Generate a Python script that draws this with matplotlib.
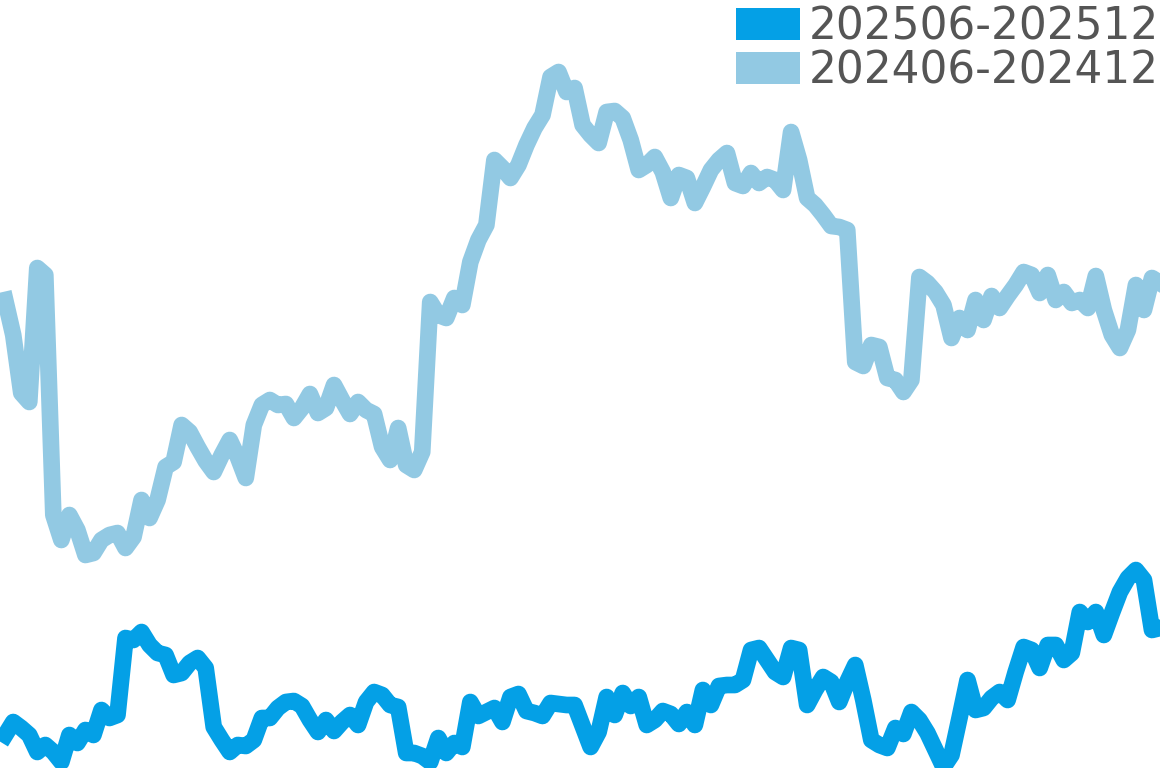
import matplotlib
matplotlib.use("Agg")
import matplotlib.pyplot as plt
from matplotlib.patches import Rectangle

# trading-day series, June to December
labels = ["202506-202512", "202406-202412"]
colors = ["#04A0E6", "#92C9E3"]

values_2025 = [
    3.3, 4.6, 4.0, 3.3, 1.6, 2.3, 1.6, 0.6, 3.3, 2.5,
    3.8, 3.3, 5.8, 5.0, 5.3, 13.0, 12.8, 13.6, 12.3, 11.5,
    11.3, 9.3, 9.5, 10.5, 11.0, 10.0, 4.1, 2.8, 1.6, 2.3,
    2.2, 2.8, 5.0, 5.0, 6.0, 6.6, 6.7, 6.2, 4.8, 3.6,
    4.8, 3.7, 4.6, 5.3, 4.3, 6.6, 7.6, 7.3, 6.3, 6.1,
    1.5, 1.5, 1.2, 0.6, 3.0, 1.5, 2.5, 2.1, 6.6, 5.2,
    5.6, 6.0, 4.6, 7.1, 7.4, 5.7, 5.5, 5.2, 6.5, 6.4,
    6.3, 6.3, 4.2, 2.1, 3.6, 7.1, 5.3, 7.5, 6.2, 7.1,
    4.3, 4.8, 5.7, 5.4, 4.4, 5.6, 4.3, 7.8, 6.3, 8.2,
    8.3, 8.3, 8.8, 11.8, 12.0, 10.8, 9.6, 9.1, 12.0, 11.8,
    6.3, 7.8, 9.1, 8.6, 6.6, 8.6, 10.3, 6.8, 2.8, 2.3,
    2.0, 4.0, 3.4, 5.6, 4.8, 3.5, 1.8, 0.1, 1.3, 5.0,
    8.8, 5.8, 6.0, 7.0, 7.6, 6.8, 9.6, 12.1, 11.8, 10.0,
    12.3, 12.3, 10.8, 11.5, 15.6, 14.6, 15.6, 13.3, 15.5, 17.6,
    19.0, 19.8, 18.8, 13.8, 14.0,
]

values_2024 = [
    46.8, 43.3, 37.5, 36.6, 50.0, 49.3, 25.3, 22.8, 25.3, 23.8,
    21.3, 21.5, 22.8, 23.3, 23.5, 22.0, 23.1, 26.8, 25.0, 26.8,
    30.1, 30.6, 34.3, 33.6, 32.1, 30.7, 29.6, 31.3, 32.8, 31.1,
    29.0, 34.3, 36.3, 36.8, 36.3, 36.4, 35.0, 36.0, 37.4, 35.5,
    36.0, 38.3, 36.8, 35.4, 36.6, 35.8, 35.4, 32.1, 30.8, 34.0,
    30.3, 29.8, 31.6, 46.6, 45.3, 45.0, 47.0, 46.3, 50.6, 52.8,
    54.3, 60.8, 60.0, 59.0, 60.3, 62.3, 64.0, 65.3, 69.1, 69.6,
    67.6, 68.0, 64.3, 63.3, 62.5, 65.6, 65.7, 65.0, 62.8, 59.8,
    60.3, 61.1, 59.6, 57.0, 59.3, 59.0, 56.5, 58.1, 59.8, 60.8,
    61.5, 58.5, 58.2, 59.5, 58.5, 59.1, 58.8, 57.8, 63.6, 60.8,
    57.0, 56.3, 55.3, 54.2, 54.1, 53.8, 40.6, 40.2, 42.3, 42.1,
    39.0, 38.8, 37.6, 38.8, 49.1, 48.5, 47.6, 46.3, 43.0, 45.0,
    43.8, 46.8, 44.8, 47.2, 46.0, 47.2, 48.3, 49.6, 49.3, 47.5,
    49.3, 46.8, 47.6, 46.5, 46.8, 46.0, 49.2, 45.8, 43.3, 42.0,
    43.8, 48.3, 45.8, 49.0, 48.5,
]

fig = plt.figure(figsize=(11.6, 7.68), dpi=100)
ax = fig.add_axes([0, 0, 1, 1])

for vals, col in zip([values_2025, values_2024], colors):
    ax.plot(range(len(vals)), vals, color=col, lw=12,
            solid_joinstyle='round', solid_capstyle='projecting')

ax.set_xlim(-0.65, 144)
ax.set_ylim(0, 76.8)
ax.axis('off')

# legend drawn by hand: square swatches and big grey labels at top right
for k, (lab, col) in enumerate(zip(labels, colors)):
    base = 1 - (40 + 44 * k) / 768
    fig.add_artist(Rectangle((736 / 1160, base), 64 / 1160, 32 / 768,
                             transform=fig.transFigure, color=col, lw=0))
    fig.text(1159 / 1160, base, lab, ha='right', va='baseline',
             fontsize=31.5, color='#555555', family='DejaVu Sans')

fig.savefig('out.png', dpi=100)
